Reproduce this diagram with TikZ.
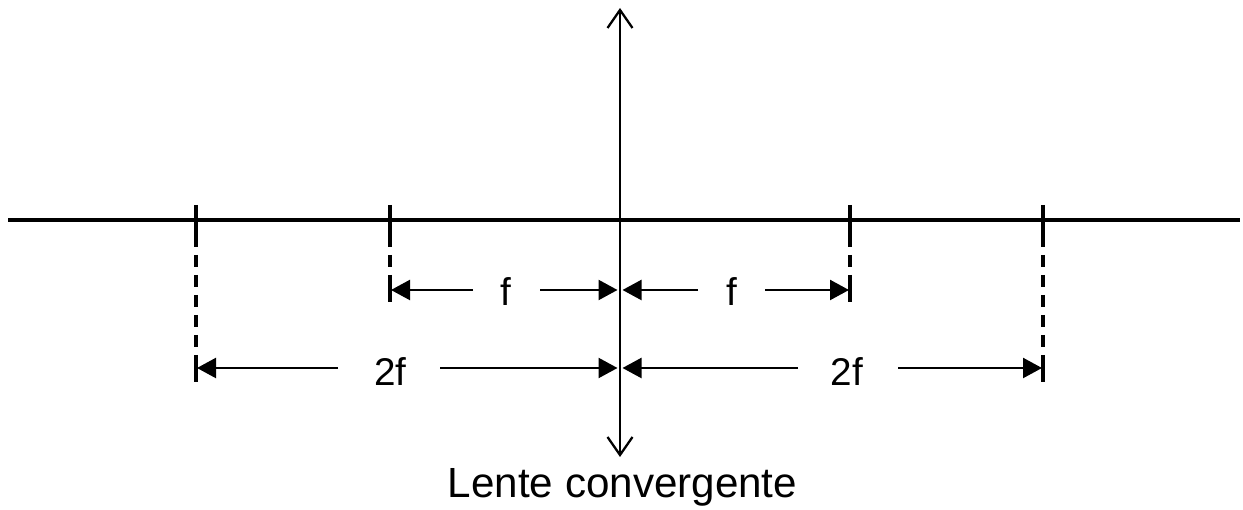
\documentclass[tikz,border=0pt]{standalone}
\usepackage{fontspec}
\setmainfont{Liberation Sans}
\usetikzlibrary{arrows.meta}
\tikzset{
  axisline/.style={line width=2.1pt},
  lensline/.style={line width=1.3pt, {Straight Barb[length=0.36cm,width=0.5cm,line width=1.3pt]}-{Straight Barb[length=0.36cm,width=0.5cm,line width=1.3pt]}},
  tickline/.style={line width=2.1pt},
  guideline/.style={line width=2pt, dash pattern=on 0.24cm off 0.16cm},
  dimarrow/.style={line width=1.3pt, -{Triangle[length=0.38cm,width=0.4cm]}},
  lbl/.style={anchor=base, inner sep=0pt, font=\fontsize{22}{26}\selectfont},
  caption/.style={anchor=base, inner sep=0pt, font=\fontsize{24}{28}\selectfont}
}
\begin{document}
\begin{tikzpicture}
\useasboundingbox (0,0) rectangle (24.86,10.2);
% optical axis
\coordinate (axL) at (0.16,5.80);
\coordinate (axR) at (24.80,5.80);
\draw[axisline] (axL) -- (axR);
% lens
\coordinate (ltop) at (12.40,10.04);
\coordinate (lbot) at (12.40,1.06);
\draw[lensline] (lbot) -- (ltop);
% ticks on axis
\foreach \n/\x in {a/3.92,b/7.80,c/17.00,d/20.86}{
  \coordinate (t\n top) at (\x,6.10);
  \coordinate (t\n bot) at (\x,5.50);
  \draw[tickline] (t\n top) -- (t\n bot);
}
% f-level end ticks
\coordinate (fbL top) at (7.80,4.64);  \coordinate (fbL bot) at (7.80,4.16);
\coordinate (fbR top) at (17.00,4.64); \coordinate (fbR bot) at (17.00,4.16);
\draw[tickline] (fbL top) -- (fbL bot);
\draw[tickline] (fbR top) -- (fbR bot);
% 2f-level end ticks
\coordinate (gbL top) at (3.92,3.10);  \coordinate (gbL bot) at (3.92,2.56);
\coordinate (gbR top) at (20.86,3.10); \coordinate (gbR bot) at (20.86,2.56);
\draw[tickline] (gbL top) -- (gbL bot);
\draw[tickline] (gbR top) -- (gbR bot);
% dashed guides
\draw[guideline] (tbbot) -- (fbL top);
\draw[guideline] (tcbot) -- (fbR top);
\draw[guideline] (tabot) -- (gbL top);
\draw[guideline] (tdbot) -- (gbR top);
% labels
\node[lbl] (fL) at (10.12,4.08) {f};
\node[lbl] (fR) at (14.64,4.08) {f};
\node[lbl] (gL) at (7.81,2.48) {2f};
\node[lbl] (gR) at (16.94,2.48) {2f};
\node[caption] (cap) at (12.45,0.24) {Lente convergente};
% dimension line gap ends and tips
\coordinate (fL1) at (9.46,4.40);  \coordinate (fL2) at (10.80,4.40);
\coordinate (fR1) at (13.96,4.40); \coordinate (fR2) at (15.30,4.40);
\coordinate (gL1) at (6.76,2.84);  \coordinate (gL2) at (8.80,2.84);
\coordinate (gR1) at (15.96,2.84); \coordinate (gR2) at (17.96,2.84);
\coordinate (fLtip) at (7.82,4.40);  \coordinate (fLlens) at (12.35,4.40);
\coordinate (fRlens) at (12.45,4.40); \coordinate (fRtip) at (16.98,4.40);
\coordinate (gLtip) at (3.94,2.84);  \coordinate (gLlens) at (12.35,2.84);
\coordinate (gRlens) at (12.45,2.84); \coordinate (gRtip) at (20.84,2.84);
\draw[dimarrow] (fL1) -- (fLtip);
\draw[dimarrow] (fL2) -- (fLlens);
\draw[dimarrow] (fR1) -- (fRlens);
\draw[dimarrow] (fR2) -- (fRtip);
\draw[dimarrow] (gL1) -- (gLtip);
\draw[dimarrow] (gL2) -- (gLlens);
\draw[dimarrow] (gR1) -- (gRlens);
\draw[dimarrow] (gR2) -- (gRtip);
\end{tikzpicture}
\end{document}
